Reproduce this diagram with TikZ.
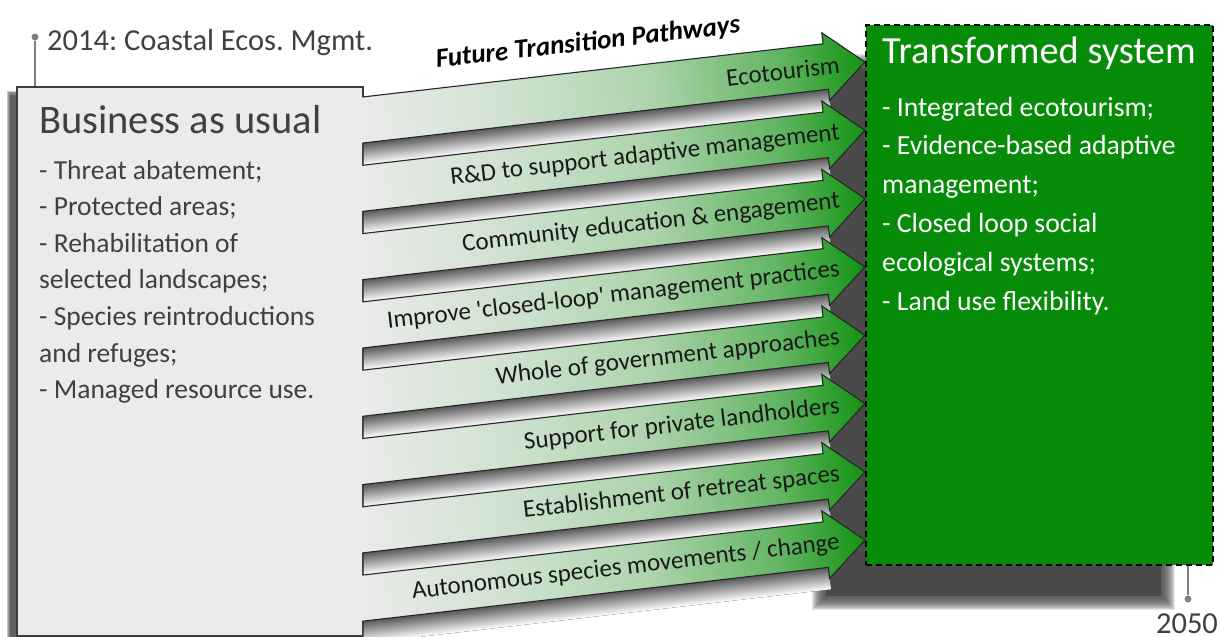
\documentclass[tikz,border=0pt]{standalone}
\usepackage{fontspec}
\setmainfont{Carlito}
\usetikzlibrary{calc}
\frenchspacing

\definecolor{bauGray}{HTML}{EBEBEB}
\definecolor{bauText}{HTML}{404040}
\definecolor{bauLine}{HTML}{3C3C3C}
\definecolor{transGreen}{HTML}{078C0A}
\definecolor{shadowGray}{HTML}{4A4A4A}
\definecolor{pinGray}{HTML}{7F7F7F}
\definecolor{paleGreen}{HTML}{D0E2D0}
\definecolor{midGreen}{HTML}{ACD3AC}
\definecolor{deepGreen}{HTML}{62B562}
\definecolor{tipGreen}{HTML}{129312}

\pgfdeclarehorizontalshading{pathway}{100bp}{color(0bp)=(bauGray); color(27bp)=(bauGray); color(41bp)=(paleGreen); color(55bp)=(midGreen); color(67bp)=(deepGreen); color(75bp)=(tipGreen); color(100bp)=(tipGreen)}

\tikzset{
  bau box/.style={draw=bauLine, line width=1.3pt, fill=bauGray, minimum width=346pt, minimum height=549pt, inner sep=0pt},
  trans box/.style={draw=black, line width=1.8pt, dash pattern=on 6pt off 4pt, fill=transGreen, minimum width=347pt, minimum height=540pt, inner sep=0pt},
  pathway arrow/.style={draw=black!85, line width=1.1pt, shade, shading=pathway},
  gap shadow/.style={top color=black!65, middle color=black!12, bottom color=white},
  path label/.style={anchor=east, inner sep=0pt, text=black!90, font=\fontsize{25}{30}\selectfont},
  bau item/.style={anchor=base west, inner sep=0pt, text=bauText, font=\fontsize{27.5}{33}\selectfont},
  trans item/.style={anchor=base west, inner sep=0pt, text=white, font=\fontsize{27.7}{33}\selectfont},
  pin/.style={circle, fill=pinGray, inner sep=0pt, minimum size=7pt},
  pin line/.style={draw=pinGray, line width=1.5pt},
  year/.style={inner sep=0pt, text=bauText, font=\fontsize{30.5}{36}\selectfont}
}

\begin{document}
\begin{tikzpicture}[x=1pt,y=-1pt]
\useasboundingbox (0,0) rectangle (1221,637);

% shadows behind the two boxes
\foreach \d in {-5,-4,...,8}
  \fill[shadowGray, opacity=0.14] (820-\d,62-\d) rectangle (1167+\d,602+\d);
\fill[shadowGray] (826,68) rectangle (1161,596);
\foreach \d in {2.5,1.5,0.5}
  \fill[black!75, opacity=0.3] (9-\d,93-\d) rectangle (356+\d,660);
\fill[black!62] (10,95) rectangle (350,660);

% business as usual
\node[bau box] (bau) at (190,361.5) {};
\node[anchor=base west, inner sep=0pt, text=bauText, font=\fontsize{40.5}{48}\selectfont] (bauT) at (39,133) {Business as usual};
\foreach \t [count=\k from 0] in {{- Threat abatement;},{- Protected areas;},{- Rehabilitation of},{selected landscapes;},{- Species reintroductions},{and refuges;},{- Managed resource use.}}
  \node[bau item] (bau\k) at (39,179+36.6*\k) {\t};

% pathways
\begin{scope}
\clip (362.3,0) rectangle (1221,637);
\foreach \lab [count=\i from 0] in {{Ecotourism},{R\&D to support adaptive management},{Community education \& engagement},{Improve \textquotesingle closed-loop\textquotesingle{} management practices},{Whole of government approaches},{Support for private landholders},{Establishment of retreat spaces},{Autonomous species movements / change}}{
  \begin{scope}[transform canvas={shift={(363,120+68.3*\i)},rotate=6.59}]
    \fill[gap shadow] (-2,22.9) -- (466,22.9) -- (466,45) -- (-4.6,45) -- cycle;
    \path[pathway arrow] (-30,-22.9) -- (465.8,-22.9) -- (465.8,-34) -- (505.3,0) -- (465.8,34) -- (465.8,22.9) -- (-30,22.9) -- cycle;
    \node[path label] (lab\i) at (480,0) {\lab};
  \end{scope}
}
\end{scope}
\node[rotate=6.59, inner sep=0pt, font=\fontsize{27}{32}\selectfont\bfseries\itshape] (ftp) at (588,43) {Future Transition Pathways};

% transformed system
\node[trans box] (trans) at (1039.5,295) {};
\node[anchor=base west, inner sep=0pt, text=white, font=\fontsize{38.4}{44}\selectfont] (transT) at (882,63) {Transformed system};
\foreach \t [count=\k from 0] in {{- Integrated ecotourism;},{- Evidence-based adaptive},{management;},{- Closed loop social},{ecological systems;},{- Land use flexibility.}}
  \node[trans item] (trans\k) at (882,116+38.8*\k) {\t};

% timeline
\node[pin] (p2014) at (35,37) {};
\draw[pin line] (p2014) -- (p2014 |- bau.north);
\node[year, anchor=base west] (y2014) at (47,50) {2014: Coastal Ecos. Mgmt.};
\node[pin] (p2050) at (1188,599) {};
\draw[pin line] (p2050) -- (p2050 |- trans.south);
\node[year, anchor=base] (y2050) at (1187,633) {2050};
\end{tikzpicture}
\end{document}
